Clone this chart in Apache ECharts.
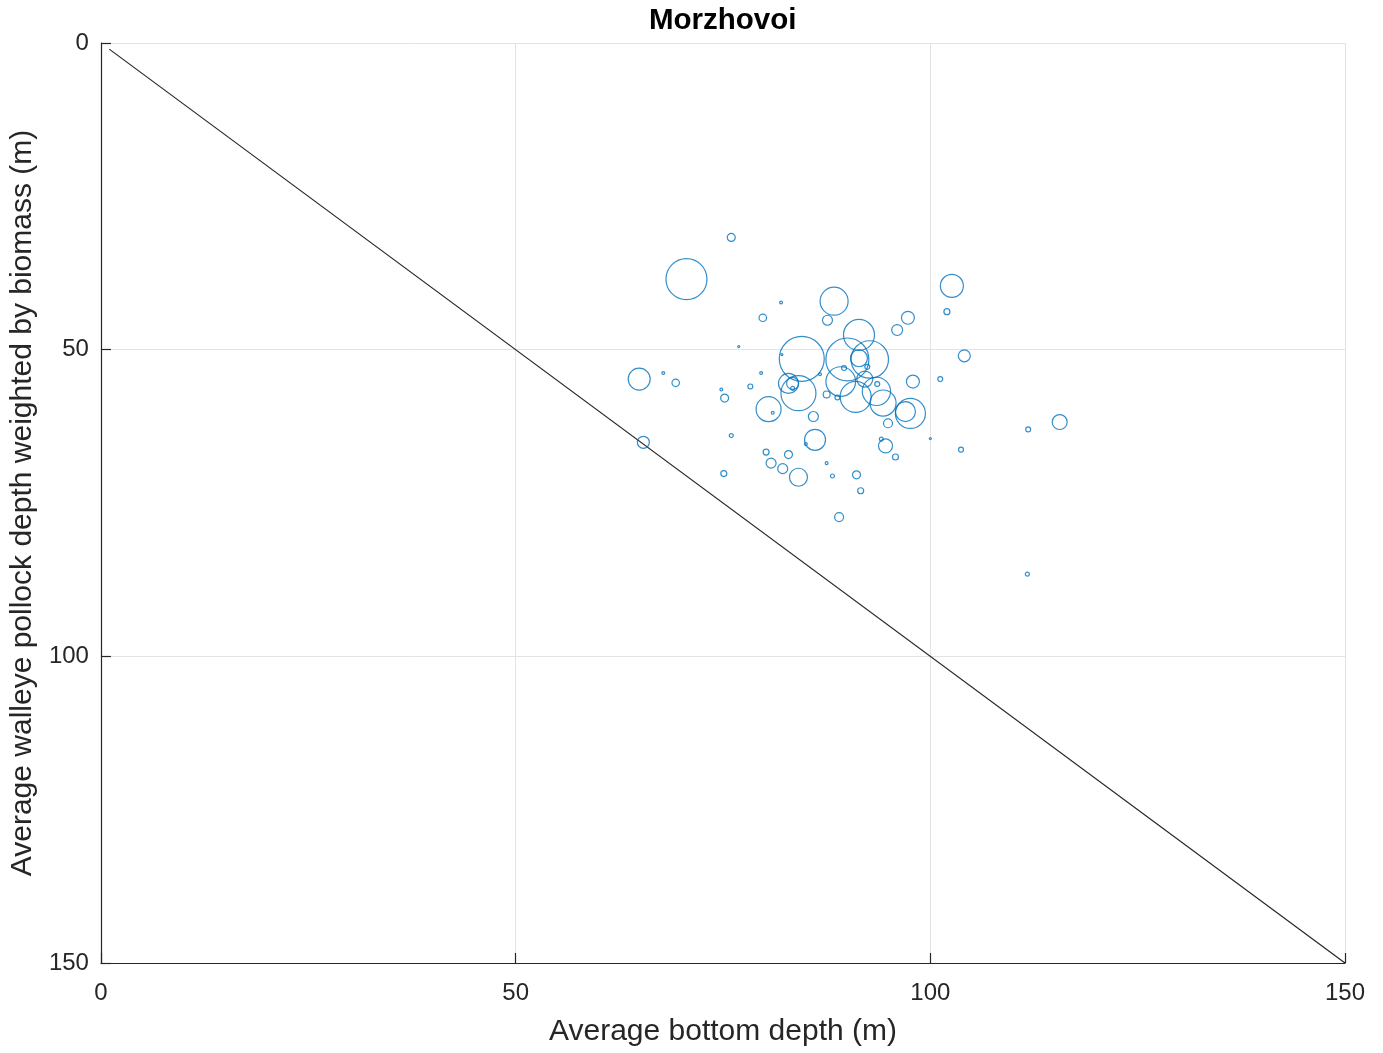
<!DOCTYPE html>
<html>
<head>
<meta charset="utf-8">
<title>Morzhovoi</title>
<script src="https://cdn.jsdelivr.net/npm/echarts@6/dist/echarts.min.js"></script>
<style>
  html, body { margin: 0; padding: 0; background: #ffffff; }
  #chart { width: 1383px; height: 1053px; }
</style>
</head>
<body>
<div id="chart"></div>
<script>
// Average bottom depth per haul (m)
const bottomDepth = [
  76.0, 70.6, 82.0, 79.8, 88.4, 87.6, 76.9, 84.5, 82.1, 64.9,
  67.8, 69.3, 79.6, 78.3, 74.8, 75.2, 80.5, 81.0, 84.1, 82.9,
  83.4, 83.4, 85.9, 86.1, 85.0, 65.4, 76.0, 80.2, 82.9, 80.8,
  82.2, 84.1, 75.1, 87.5, 88.2, 89.0, 91.1, 91.6, 94.6, 94.1,
  95.8, 94.9, 97.6, 97.0, 100.0, 103.7, 111.8, 115.6, 111.7, 97.3,
  96.0, 102.6, 102.0, 104.1, 101.2, 97.9, 91.4, 90.0, 92.7, 91.4,
  92.4, 89.6, 89.2, 91.0, 92.1, 93.6, 93.5, 94.3, 87.5, 88.8,
  86.7
];
// Biomass-weighted average walleye pollock depth (m)
const pollockDepth = [
  31.7, 38.5, 42.3, 44.8, 42.1, 45.2, 49.5, 51.5, 50.8, 54.8,
  53.8, 55.4, 53.8, 56.0, 56.5, 57.9, 59.7, 60.3, 57.1, 55.5,
  55.5, 56.3, 60.9, 64.7, 65.4, 65.1, 64.0, 66.7, 67.1, 68.5,
  69.4, 70.8, 70.2, 68.5, 70.6, 77.3, 70.4, 73.0, 65.7, 64.6,
  67.5, 62.0, 60.4, 60.1, 64.5, 66.3, 63.0, 61.8, 86.6, 44.8,
  46.8, 39.6, 43.8, 51.0, 54.8, 55.2, 47.6, 51.6, 51.6, 51.4,
  52.8, 53.0, 55.2, 57.7, 54.8, 55.6, 56.8, 58.7, 57.3, 57.8,
  54.0
];
// Relative pollock biomass per haul (bubble area)
const biomass = [
  16, 420, 2, 14, 196, 25, 1, 506, 1, 121,
  2, 14, 2, 6, 2, 16, 156, 2, 306, 100,
  36, 4, 25, 110, 2, 36, 4, 9, 16, 25,
  25, 81, 9, 2, 4, 20, 16, 9, 49, 4,
  9, 20, 225, 100, 1, 6, 6, 56, 4, 42,
  30, 132, 9, 36, 6, 42, 240, 462, 350, 72,
  6, 6, 220, 240, 64, 6, 200, 170, 12, 6,
  2
];
// 1:1 reference line end points (m)
const refLine = [1, 150];
const axisTicks = [0, 50, 100, 150];

const points = bottomDepth.map((x, i) => [x, pollockDepth[i], biomass[i]]);

const chart = echarts.init(document.getElementById('chart'), null, { renderer: 'canvas' });
const axisColor = '#262626';
const gridColor = '#e3e3e3';
const font = 'Liberation Sans, Arial, Helvetica, sans-serif';

chart.setOption({
  animation: false,
  backgroundColor: '#ffffff',
  title: {
    text: 'Morzhovoi',
    left: 644, top: 1,
    textStyle: { fontFamily: font, fontSize: 29.5, fontWeight: 'bold', color: '#000000' }
  },
  grid: { left: 100, right: 38, top: 43, bottom: 90, containLabel: false },
  xAxis: {
    type: 'value', min: axisTicks[0], max: axisTicks[axisTicks.length - 1], interval: 50,
    name: 'Average bottom depth (m)', nameLocation: 'middle', nameGap: 54,
    nameTextStyle: { fontFamily: font, fontSize: 30, color: axisColor },
    axisLine: { show: true, onZero: false, lineStyle: { color: axisColor, width: 1.2 } },
    axisTick: { show: true, inside: true, length: 10, lineStyle: { color: axisColor, width: 1.2 } },
    axisLabel: { fontFamily: font, fontSize: 24, color: axisColor, margin: 18 },
    splitLine: { show: true, lineStyle: { color: gridColor, width: 1 } }
  },
  yAxis: {
    type: 'value', inverse: true, min: axisTicks[0], max: axisTicks[axisTicks.length - 1], interval: 50,
    name: 'Average walleye pollock depth weighted by biomass (m)', nameLocation: 'middle', nameGap: 62,
    nameTextStyle: { fontFamily: font, fontSize: 30, color: axisColor },
    axisLine: { show: true, onZero: false, lineStyle: { color: axisColor, width: 1.2 } },
    axisTick: { show: true, inside: true, length: 10, lineStyle: { color: axisColor, width: 1.2 } },
    axisLabel: { fontFamily: font, fontSize: 24, color: axisColor, margin: 12, lineHeight: 24, padding: [5, 0, 0, 0] },
    splitLine: { show: true, lineStyle: { color: gridColor, width: 1 } }
  },
  series: [
    {
      type: 'line',
      data: [[refLine[0], refLine[0]], [refLine[1], refLine[1]]],
      symbol: 'none',
      lineStyle: { color: '#262626', width: 1.2 },
      silent: true,
      z: 2
    },
    {
      type: 'scatter',
      data: points,
      symbol: 'circle',
      symbolSize: d => 2 * Math.sqrt(d[2]),
      itemStyle: { color: 'rgba(0,0,0,0)', borderColor: '#0072BD', borderWidth: 1.2 },
      z: 3
    }
  ]
});
</script>
</body>
</html>
